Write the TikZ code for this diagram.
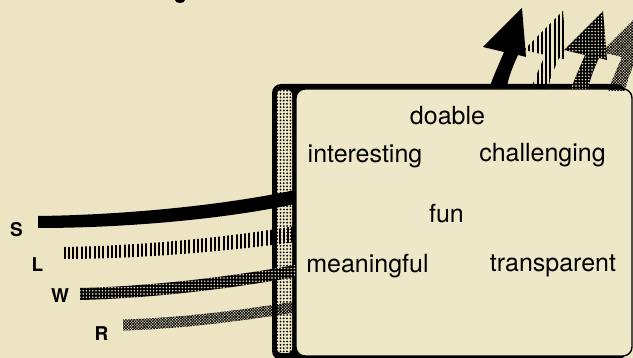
\documentclass[tikz,border=0pt]{standalone}
\usepackage{fontspec}
\setmainfont{TeX Gyre Heros}
\usetikzlibrary{patterns.meta,calc}
\definecolor{paper}{HTML}{ECE4C2}
\definecolor{card}{HTML}{EEE7C8}
\begin{document}
\begin{tikzpicture}[x=1pt,y=-1pt,
  word/.style={font=\fontsize{25}{30}\selectfont, anchor=base, inner sep=0pt},
  tag/.style={font=\fontsize{19}{22}\selectfont\bfseries, inner sep=0pt},
  solidband/.style={fill=black},
  lineband/.style={pattern={Lines[angle=90,distance=4.3pt,line width=2pt]}},
  dotband/.style={fill=black, postaction={pattern={Dots[radius=0.85pt,distance=3.2pt]}, pattern color=card}},
  hatchband/.style={pattern={Hatch[angle=45,distance=2pt,line width=0.65pt]}},
  stripdots/.style={pattern={Dots[radius=1pt,distance=3.3pt]}},
  pics/outarrow/.style={code={
    \path[#1] (490,86) .. controls (495,72) and (500,62) .. (504,52)
      -- (483,47) -- (522,8) -- (526,57) -- (518,55)
      .. controls (513,66) and (509,76) .. (507,86) -- cycle;}},
]
\useasboundingbox (0,0) rectangle (633,358);
\clip (0,0) rectangle (633,358);
\fill[paper] (0,0) rectangle (633,358);
\fill (180,0) ellipse [x radius=5pt, y radius=3pt];

% frame: black back, dotted side strip, front card
\fill[black, rounded corners=9pt] (272,84) rectangle (626,360);
\fill[card, rounded corners=4pt] (277,90) rectangle (292,353);
\path[stripdots, rounded corners=4pt] (277,90) rectangle (292,353);
\draw[fill=card, line width=1.4pt, rounded corners=9pt] (296,89) rectangle (632,356);

% entry points on the side of the card
\coordinate (sIn) at (295,197);
\coordinate (lIn) at (295,234);
\coordinate (wIn) at (295,271);
\coordinate (rIn) at (295,307);

% incoming bands
\path[solidband] (38,216) .. controls (120,215) and (220,206) .. ($(sIn)+(0,-7)$)
  -- ($(sIn)+(0,7)$) .. controls (220,220) and (120,228) .. (38,228) -- cycle;
\path[lineband] (62,247) .. controls (140,246) and (230,237) .. ($(lIn)+(0,-8)$)
  -- ($(lIn)+(0,8)$) .. controls (230,251) and (140,259) .. (62,259) -- cycle;
\path[dotband] (80,288) .. controls (160,286) and (240,275) .. ($(wIn)+(0,-6)$)
  -- ($(wIn)+(0,6)$) .. controls (240,287) and (160,298) .. (80,300) -- cycle;
\path[hatchband] (123,319.5) .. controls (190,317.5) and (250,308.5) .. ($(rIn)+(0,-5.5)$)
  -- ($(rIn)+(0,5.5)$) .. controls (250,319.5) and (190,328.5) .. (123,330.5) -- cycle;

% outgoing arrows on top
\pic at (118,5) {outarrow=hatchband};
\pic at (81,3) {outarrow=dotband};
\pic at (41,3) {outarrow=lineband};
\pic at (0,0) {outarrow=solidband};

% labels
\node[tag] (S) at (16.5,230) {S};
\node[tag] (L) at (37.5,265) {L};
\node[tag] (W) at (60,296) {W};
\node[tag] (R) at (101.5,334) {R};

% qualities
\node[word] (doable) at (447.5,125) {doable};
\node[word] (interesting) at (365,163) {interesting};
\node[word] (challenging) at (542.5,162) {challenging};
\node[word] (fun) at (446.5,223) {fun};
\node[word] (meaningful) at (367.5,273) {meaningful};
\node[word] (transparent) at (553,272) {transparent};
\end{tikzpicture}
\end{document}
